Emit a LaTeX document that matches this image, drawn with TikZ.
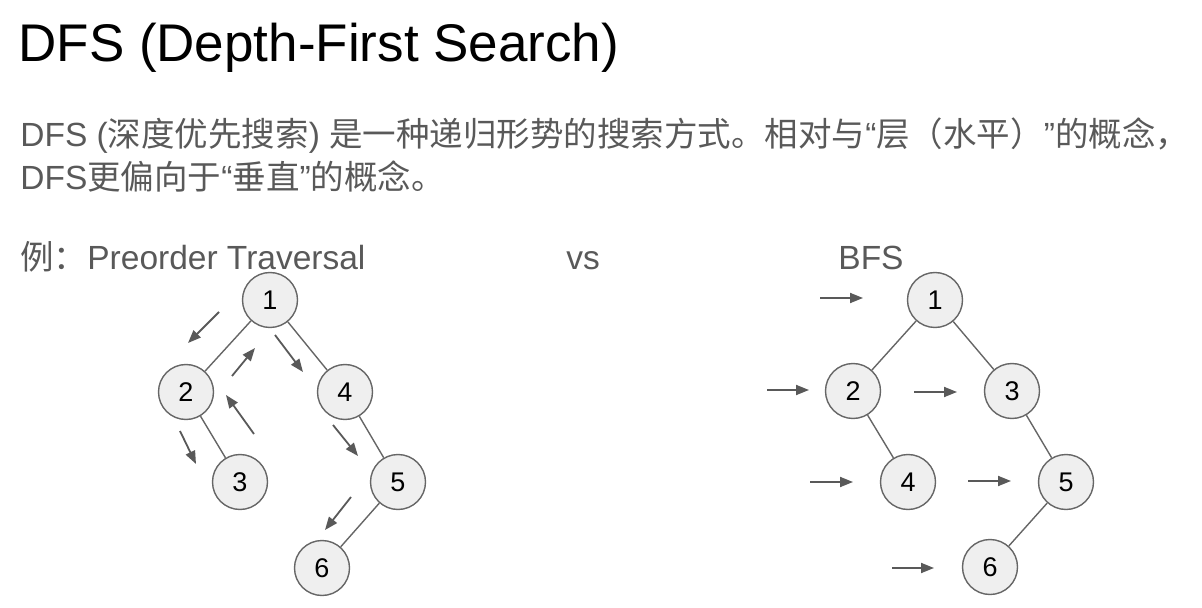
\documentclass[tikz,border=0pt]{standalone}
\usepackage{fontspec}
\setmainfont{Liberation Sans}
\newfontfamily\cjk{Noto Sans CJK SC}
\usetikzlibrary{arrows.meta}
\definecolor{txtgray}{HTML}{595959}
\definecolor{nodegray}{HTML}{EFEFEF}
\definecolor{edgegray}{HTML}{666666}
\definecolor{arrowgray}{HTML}{595959}

\begin{document}
\begin{tikzpicture}[x=0.5pt,y=-0.5pt,
  vertex/.style={circle,draw=edgegray,fill=nodegray,line width=0.7pt,minimum size=27.5pt,inner sep=0pt,font=\fontsize{13.5}{16}\selectfont},
  treeedge/.style={edgegray,line width=0.7pt},
  hint/.style={arrowgray,line width=0.9pt,-{Triangle[length=6.5pt,width=5pt]}},
  body/.style={anchor=base west,inner sep=0pt,text=txtgray,font=\fontsize{16.75}{20}\selectfont}]
  \useasboundingbox (0,0) rectangle (1202,608);
  % headings
  \node[anchor=base west,inner sep=0pt,font=\fontsize{26.5}{32}\selectfont] (title) at (18,62) {DFS (Depth-First Search)};
  \node[body] (line1) at (20,147) {DFS ({\cjk 深度优先搜索}) {\cjk 是一种递归形势的搜索方式。相对与}“{\cjk 层（水平）}”{\cjk 的概念，}};
  \node[body] (line2) at (20,190) {DFS{\cjk 更偏向于}“{\cjk 垂直}”{\cjk 的概念。}};
  \node[body] (eg) at (20,270) {{\cjk 例：}Preorder Traversal};
  \node[body] (vs) at (566,270) {vs};
  \node[body] (bfs) at (838,270) {BFS};

  % preorder tree
  \node[vertex] (l1) at (270,300) {1}; \node[vertex] (l2) at (186,392) {2}; \node[vertex] (l4) at (345,392) {4};
  \node[vertex] (l3) at (240,482) {3}; \node[vertex] (l5) at (398,482) {5}; \node[vertex] (l6) at (322,568) {6};
  \draw[treeedge] (l1)--(l2); \draw[treeedge] (l1)--(l4); \draw[treeedge] (l2)--(l3);
  \draw[treeedge] (l4)--(l5); \draw[treeedge] (l5)--(l6);
  \coordinate (pa) at (219,312); \coordinate (pA) at (188,343);
  \coordinate (pb) at (232,376); \coordinate (pB) at (255,348);
  \coordinate (pc) at (275,335); \coordinate (pC) at (303,372);
  \coordinate (pd) at (180,431); \coordinate (pD) at (196,464);
  \coordinate (pe) at (254,434); \coordinate (pE) at (226,395);
  \coordinate (pf) at (333,425); \coordinate (pF) at (358,456);
  \coordinate (pg) at (351,497); \coordinate (pG) at (325,530);
  \draw[hint] (pa)--(pA); \draw[hint] (pb)--(pB); \draw[hint] (pc)--(pC); \draw[hint] (pd)--(pD);
  \draw[hint] (pe)--(pE); \draw[hint] (pf)--(pF); \draw[hint] (pg)--(pG);

  % bfs tree
  \node[vertex] (b1) at (935,300) {1}; \node[vertex] (b2) at (853,391) {2}; \node[vertex] (b3) at (1012,391) {3};
  \node[vertex] (b4) at (908,482) {4}; \node[vertex] (b5) at (1066,482) {5}; \node[vertex] (b6) at (990,567) {6};
  \draw[treeedge] (b1)--(b2); \draw[treeedge] (b1)--(b3); \draw[treeedge] (b2)--(b4);
  \draw[treeedge] (b3)--(b5); \draw[treeedge] (b5)--(b6);
  \coordinate (qa) at (820,298); \coordinate (qA) at (863,298);
  \coordinate (qb) at (767,390); \coordinate (qB) at (809,390);
  \coordinate (qc) at (914,392); \coordinate (qC) at (957,392);
  \coordinate (qd) at (810,482); \coordinate (qD) at (853,482);
  \coordinate (qe) at (968,481); \coordinate (qE) at (1011,481);
  \coordinate (qf) at (892,568); \coordinate (qF) at (934,568);
  \draw[hint] (qa)--(qA); \draw[hint] (qb)--(qB); \draw[hint] (qc)--(qC);
  \draw[hint] (qd)--(qD); \draw[hint] (qe)--(qE); \draw[hint] (qf)--(qF);
\end{tikzpicture}
\end{document}
